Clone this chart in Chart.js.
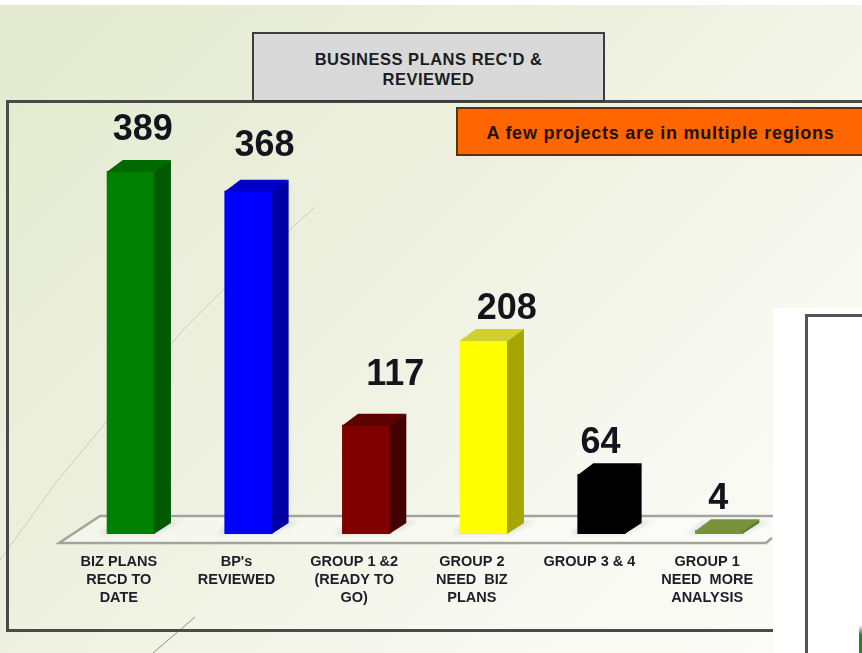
<!DOCTYPE html>
<html>
<head>
<meta charset="utf-8">
<title>Business plans rec'd and reviewed</title>
<script src="https://cdn.jsdelivr.net/npm/chart.js@4"></script>
<style>
  html, body { margin: 0; background: #fff; overflow: hidden; }
  #stage { position: relative; width: 862px; height: 653px; overflow: hidden; filter: blur(0.7px); font-family: "Liberation Sans", sans-serif; }
  #stage > * { position: absolute; box-sizing: border-box; }
  #bg { left: 0; top: 5px; width: 862px; height: 648px; background: linear-gradient(135deg, #e4ead0 0%, #edf0de 40%, #f8f9f2 75%, #fbfbf8 100%); }
  #frame { left: 6px; top: 100px; width: 860px; height: 532px; border: 3px solid #4a4a48; }
  #chart { left: 0; top: 0; }
  .box { display: flex; align-items: center; justify-content: center; text-align: center; font-weight: bold; }
  #title { left: 252px; top: 32px; width: 353px; height: 70px; background: #d9d9d9; border: 2.5px solid #3c3c3c; color: #1c1c24; font-size: 16.5px; letter-spacing: 0.5px; line-height: 20px; padding-top: 4px; }
  #note { left: 456px; top: 107px; width: 410px; height: 49px; background: #ff6600; border: 2px solid #5a3010; color: #1e1206; font-size: 18px; letter-spacing: 0.75px; padding: 3px 1px 0 0; }
  #panel { left: 773px; top: 308px; width: 89px; height: 345px; background: #fff; }
  #panel2 { left: 805px; top: 314px; width: 70px; height: 360px; border: 3px solid #555; background: #fff; }
  #sliver { left: 859px; top: 625px; width: 3px; height: 28px; background: linear-gradient(180deg, #ffffff 0%, #1c8a1c 35%); }
</style>
</head>
<body>
<div id="stage">
  <div id="bg"></div>
  <svg width="862" height="653" style="left:0;top:0">
    <polyline points="315,207 223,290 183,330 58,480 0,560" fill="none" stroke="#c9ccbb" stroke-width="1"/>
    <polyline points="195,617 153,653" fill="none" stroke="#8f9184" stroke-width="1"/>
  </svg>
  <div id="frame"></div>
  <canvas id="chart" width="862" height="653"></canvas>
  <div id="title" class="box"><span>BUSINESS PLANS REC'D &amp;<br>REVIEWED</span></div>
  <div id="note" class="box">A few projects are in multiple regions</div>
  <div id="panel"></div>
  <div id="panel2"></div>
  <div id="sliver"></div>
</div>
<script>
const categories = [
  ['BIZ PLANS', 'RECD TO', 'DATE'],
  ["BP's", 'REVIEWED'],
  ['GROUP 1 &2', '(READY TO', 'GO)'],
  ['GROUP 2', 'NEED  BIZ', 'PLANS'],
  ['GROUP 3 & 4'],
  ['GROUP 1', 'NEED  MORE', 'ANALYSIS']
];
const values = [389, 368, 117, 208, 64, 4];

const frontColors = ['#008000', '#0000ff', '#800000', '#ffff00', '#000000', '#76923c'];
const sideColors = ['#005a00', '#0000a6', '#440000', '#a6a600', '#000000', '#5f7a30'];
const topColors = ['#006a00', '#0000c8', '#5c0000', '#d0d030', '#000000', '#76923c'];

// where each number sits relative to its bar (it does not follow the bar exactly in the original)
const labelShiftX = [12, 16, 29, 23, -1, -1];
const labelLift = [41, 45, 50, 31, 31, 31];

const DEPTH_X = 16;
const DEPTH_Y = 11;

function poly(ctx, pts, fill) {
  ctx.beginPath();
  pts.forEach((p, i) => i ? ctx.lineTo(p[0], p[1]) : ctx.moveTo(p[0], p[1]));
  ctx.closePath();
  ctx.fillStyle = fill;
  ctx.fill();
}

// Floor under the bars plus soft shadows
const floorPlugin = {
  id: 'floor',
  beforeDatasetsDraw(chart) {
    const { ctx, chartArea: a } = chart;
    const front = a.bottom + 9, back = a.bottom - 18;
    ctx.save();
    poly(ctx, [[a.left - 13, front], [a.left + 28, back], [a.right + 10, back], [a.right - 8, front]], 'rgba(255,255,255,0.4)');
    ctx.strokeStyle = '#a3a49c';
    ctx.lineWidth = 2.5;
    ctx.beginPath();
    ctx.moveTo(a.right - 6, front - 5);
    ctx.lineTo(a.right - 12, front);
    ctx.lineTo(a.left - 13, front);
    ctx.lineTo(a.left + 28, back);
    ctx.lineTo(a.right + 10, back);
    ctx.stroke();
    ctx.filter = 'blur(2px)';
    chart.getDatasetMeta(0).data.forEach(bar => {
      const l = bar.x - bar.width / 2, r = bar.x + bar.width / 2, b = bar.base;
      poly(ctx, [[l - 8, b], [r, b], [r + 28, b - DEPTH_Y - 2], [l + 8, b - DEPTH_Y - 2]], 'rgba(90,90,80,0.15)');
    });
    ctx.restore();
  }
};

// Side and top faces of the 3D look, and the value numbers
const barFacesPlugin = {
  id: 'barFaces',
  afterDatasetsDraw(chart) {
    const { ctx } = chart;
    ctx.save();
    chart.getDatasetMeta(0).data.forEach((bar, i) => {
      const l = bar.x - bar.width / 2, r = bar.x + bar.width / 2, t = bar.y, b = bar.base;
      // overlap the front face a little so no pale seam shows
      poly(ctx, [[r - 1, t], [r + DEPTH_X, t - DEPTH_Y], [r + DEPTH_X, b - DEPTH_Y], [r - 1, b]], sideColors[i]);
      poly(ctx, [[l, t + 1], [l + DEPTH_X, t - DEPTH_Y], [r + DEPTH_X, t - DEPTH_Y], [r, t + 1]], topColors[i]);
      ctx.fillStyle = '#14141c';
      ctx.font = 'bold 36px "Liberation Sans"';
      ctx.textAlign = 'center';
      ctx.textBaseline = 'middle';
      ctx.fillText(values[i], bar.x + labelShiftX[i], t - labelLift[i]);
    });
    ctx.restore();
  }
};

new Chart(document.getElementById('chart').getContext('2d'), {
  type: 'bar',
  data: {
    labels: categories,
    datasets: [{
      data: values,
      backgroundColor: frontColors,
      categoryPercentage: 1,
      barPercentage: 0.41
    }]
  },
  options: {
    responsive: false,
    animation: false,
    layout: { padding: { left: 72, right: 84, top: 67.5, bottom: 0 } },
    plugins: { legend: { display: false }, tooltip: { enabled: false } },
    scales: {
      x: {
        grid: { display: false, drawTicks: false },
        border: { display: false },
        afterFit: s => { s.height = 119; },
        ticks: {
          autoSkip: false,
          maxRotation: 0,
          padding: 19,
          labelOffset: -12,
          color: '#1c1e28',
          font: { family: '"Liberation Sans"', size: 14.5, weight: 'bold', lineHeight: '18px' }
        }
      },
      y: { display: false, min: 0, max: 500 }
    }
  },
  plugins: [floorPlugin, barFacesPlugin]
});
</script>
</body>
</html>
